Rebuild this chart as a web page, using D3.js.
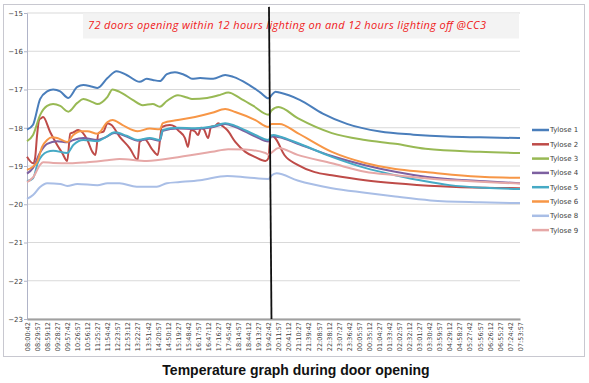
<!DOCTYPE html>
<html>
  <head>
    <meta charset="UTF-8" />
    <title>Temperature graph during door opening</title>
    <script src="https://d3js.org/d3.v7.min.js"></script>
    <style>
      body { margin: 0; background: #fff; }
      svg { display: block; }
      .tick text { fill: #404040; }
    </style>
  </head>
  <body>
    <svg width="589" height="383"></svg>
    <script>
      // time labels on the x axis (one every 29:15)
      var timeLabels = [
        "08:00:42", "08:29:57", "08:59:12", "09:28:27", "09:57:42", "10:26:57", "10:56:12",
        "11:25:27", "11:54:42", "12:23:57", "12:53:12", "13:22:27", "13:51:42", "14:20:57",
        "14:50:12", "15:19:27", "15:48:42", "16:17:57", "16:47:12", "17:16:27", "17:45:42",
        "18:14:57", "18:44:12", "19:13:27", "19:42:42", "20:11:57", "20:41:12", "21:10:27",
        "21:39:42", "22:08:57", "22:38:12", "23:07:27", "23:36:42", "00:05:57", "00:35:12",
        "01:04:27", "01:33:42", "02:02:57", "02:32:12", "03:01:27", "03:30:42", "03:59:57",
        "04:29:12", "04:58:27", "05:27:42", "05:56:57", "06:26:12", "06:55:27", "07:24:42",
        "07:53:57"
      ];
      var yTicks = [-15, -16, -17, -18, -19, -20, -21, -22, -23];
      var seriesNames = ["Tylose 1", "Tylose 2", "Tylose 3", "Tylose 4", "Tylose 5", "Tylose 6", "Tylose 8", "Tylose 9"];
      var lightsOffAt = 24.15; // position of the lighting-off marker, in label steps

      // [label step, temperature]
      var tylose1 = [[0,-18.05],[0.6,-17.92],[1.3,-17.25],[2.0,-17.05],[2.6,-17.0],[3.3,-17.05],[4.1,-17.22],
        [5.0,-16.93],[5.6,-16.88],[6.5,-16.93],[7.0,-16.96],[8.0,-16.7],[8.9,-16.52],[9.9,-16.62],[11.2,-16.8],
        [11.9,-16.72],[12.5,-16.75],[13.2,-16.78],[13.9,-16.6],[14.7,-16.55],[15.9,-16.65],[16.4,-16.72],
        [17.2,-16.7],[18.5,-16.72],[19.7,-16.62],[20.5,-16.67],[21.9,-16.85],[23.2,-17.08],[24.0,-17.23],
        [24.3,-17.15],[24.7,-17.06],[25.1,-17.08],[27.1,-17.27],[29.4,-17.63],[31.8,-17.9],[35.1,-18.1],
        [38.4,-18.18],[41.7,-18.23],[45.0,-18.25],[49,-18.27]];
      var tylose2 = [[0,-18.76],[0.6,-18.93],[0.8,-18.8],[1.0,-18.2],[1.2,-17.8],[1.4,-17.75],[1.6,-17.72],
        [2.3,-18.11],[3.0,-18.45],[3.5,-18.66],[4.0,-18.87],[4.3,-18.15],[4.6,-18.12],[5.1,-18.06],[6.0,-18.32],
        [6.5,-18.63],[6.8,-18.71],[7.1,-18.14],[7.6,-18.1],[8.0,-17.88],[8.4,-17.93],[9.2,-18.23],[10.2,-18.53],
        [11.0,-18.84],[11.2,-18.37],[11.7,-18.3],[12.4,-18.55],[13.0,-18.71],[13.4,-17.98],[14.2,-17.93],
        [14.7,-17.97],[15.0,-18.06],[15.7,-18.27],[16.0,-18.5],[16.3,-18.06],[16.7,-18.1],[17.0,-18.19],
        [17.3,-18.0],[17.6,-18.05],[18.0,-18.27],[18.3,-17.97],[18.7,-17.95],[19.0,-17.88],[19.4,-17.95],
        [19.9,-18.06],[20.7,-18.37],[21.7,-18.63],[22.7,-18.77],[23.7,-18.87],[24.0,-18.8],[24.2,-18.2],
        [24.5,-18.23],[24.7,-18.28],[25.6,-18.72],[26.9,-18.97],[28.6,-19.16],[30.3,-19.24],[33.6,-19.37],
        [36.6,-19.45],[41.1,-19.53],[45.5,-19.57],[49,-19.58]];
      var tylose3 = [[0,-18.35],[0.6,-18.19],[1.3,-17.67],[2.0,-17.43],[2.6,-17.38],[3.3,-17.43],[4.1,-17.58],
        [5.0,-17.35],[5.6,-17.25],[6.5,-17.33],[7.0,-17.38],[8.0,-17.19],[8.5,-17.0],[9.2,-17.06],[10.5,-17.27],
        [11.5,-17.41],[12.5,-17.38],[13.2,-17.45],[13.9,-17.3],[15.0,-17.15],[15.9,-17.21],[16.4,-17.25],
        [17.9,-17.22],[19.2,-17.14],[20.0,-17.08],[21.2,-17.23],[22.5,-17.43],[24.0,-17.66],[24.3,-17.55],
        [25.0,-17.46],[26.9,-17.75],[30.3,-18.14],[33.6,-18.32],[36.6,-18.42],[39.6,-18.55],[45.0,-18.63],
        [49,-18.66]];
      var tylose4 = [[0,-19.2],[0.6,-19.05],[1.3,-18.65],[2.0,-18.42],[3.0,-18.35],[4.0,-18.38],[4.6,-18.32],
        [5.6,-18.27],[7.0,-18.32],[7.8,-18.25],[8.7,-18.14],[9.9,-18.23],[11.0,-18.34],[12.2,-18.29],
        [13.2,-18.34],[13.5,-18.08],[15.0,-18.02],[16.7,-18.03],[18.4,-17.99],[19.7,-17.9],[20.7,-17.98],
        [22.7,-18.23],[24.0,-18.36],[24.3,-18.22],[25.1,-18.25],[26.9,-18.42],[30.3,-18.74],[33.6,-18.98],
        [36.6,-19.15],[39.6,-19.28],[45.5,-19.4],[49,-19.45]];
      var tylose5 = [[0,-19.4],[0.6,-19.32],[1.1,-18.9],[2.0,-18.63],[2.6,-18.6],[4.0,-18.66],[4.6,-18.45],
        [5.6,-18.32],[7.0,-18.35],[7.8,-18.25],[8.7,-18.12],[9.9,-18.21],[11.0,-18.32],[12.2,-18.27],
        [13.2,-18.32],[13.5,-18.06],[15.0,-18.0],[16.7,-18.01],[18.4,-17.97],[19.7,-17.88],[20.7,-17.95],
        [22.7,-18.19],[24.0,-18.32],[24.3,-18.2],[24.5,-18.19],[25.1,-18.23],[26.9,-18.4],[30.3,-18.76],
        [33.6,-19.05],[36.6,-19.24],[39.6,-19.4],[42.0,-19.5],[45.5,-19.57],[49,-19.6]];
      var tylose6 = [[0,-19.1],[1.0,-18.9],[1.5,-18.5],[2.0,-18.32],[2.5,-18.25],[3.0,-18.27],[4.0,-18.37],
        [4.6,-18.19],[5.3,-18.09],[6.0,-18.09],[7.0,-18.16],[8.0,-17.85],[8.5,-17.8],[9.5,-17.93],[11.0,-18.09],
        [12.2,-18.02],[13.2,-18.04],[13.5,-17.88],[15.0,-17.8],[16.7,-17.72],[18.4,-17.61],[19.7,-17.51],
        [20.7,-17.59],[22.7,-17.8],[24.0,-17.98],[24.3,-17.9],[25.1,-17.9],[26.9,-18.14],[30.3,-18.63],
        [33.6,-18.92],[36.6,-19.08],[39.6,-19.16],[45.5,-19.29],[49,-19.31]];
      var tylose8 = [[0,-19.86],[0.6,-19.76],[1.3,-19.55],[2.0,-19.45],[3.3,-19.47],[4.0,-19.52],[5.0,-19.47],
        [7.0,-19.5],[8.0,-19.45],[9.2,-19.45],[10.9,-19.54],[12.9,-19.54],[13.9,-19.45],[15.2,-19.42],
        [17.2,-19.37],[19.9,-19.26],[21.9,-19.3],[24.0,-19.34],[24.3,-19.25],[24.8,-19.19],[26.9,-19.38],
        [30.3,-19.58],[33.6,-19.7],[36.6,-19.8],[40.1,-19.9],[45.0,-19.95],[49,-19.97]];
      var tylose9 = [[0,-19.42],[0.6,-19.3],[1.3,-18.97],[1.6,-18.9],[2.6,-18.92],[4.3,-18.93],[6.0,-18.9],
        [8.0,-18.85],[9.2,-18.82],[11.9,-18.87],[15.0,-18.77],[18.4,-18.63],[20.0,-18.56],[21.7,-18.57],
        [23.7,-18.66],[24.0,-18.7],[24.3,-18.65],[25.0,-18.53],[26.9,-18.71],[30.3,-18.93],[33.6,-19.15],
        [36.6,-19.24],[39.6,-19.32],[45.5,-19.42],[49,-19.46]];

      var allSeries = [tylose1, tylose2, tylose3, tylose4, tylose5, tylose6, tylose8, tylose9];
      var colors = ["#4a7ebb", "#be4b48", "#98b954", "#7d60a0", "#46aac5", "#f79646", "#a9bee6", "#e6a8a7"];

      var svg = d3.select("svg");
      var margin = { top: 13, right: 69, bottom: 64, left: 27 };
      var width = +svg.attr("width") - margin.left - margin.right;
      var height = +svg.attr("height") - margin.top - margin.bottom;

      // outer chart frame
      svg.append("rect")
        .attr("x", 3.5).attr("y", 4.5)
        .attr("width", 581).attr("height", 352)
        .attr("fill", "#fff")
        .attr("stroke", "#c8c8d0");

      var g = svg.append("g")
        .attr("transform", "translate(" + margin.left + "," + margin.top + ")");

      var x = d3.scaleLinear().domain([0, timeLabels.length - 1]).range([0, width]);
      var y = d3.scaleLinear().domain([-23, -15]).range([height, 0]);

      // horizontal grid
      g.append("g")
        .selectAll("line")
        .data(yTicks)
        .enter()
        .append("line")
        .attr("x1", 0).attr("x2", width)
        .attr("y1", function (d) { return y(d); })
        .attr("y2", function (d) { return y(d); })
        .attr("stroke", "#d9d9d9")
        .attr("stroke-width", 1.2);

      // title box
      g.append("rect")
        .attr("x", 56).attr("y", 0.5)
        .attr("width", width - 57).attr("height", 25)
        .attr("fill", "#f3f3f3");
      g.append("text")
        .attr("x", 260).attr("y", 16)
        .attr("text-anchor", "middle")
        .attr("font-family", "Open Sans, sans-serif")
        .attr("font-style", "italic")
        .attr("font-size", 11)
        .attr("fill", "#f02020")
        .attr("textLength", 398)
        .text("72 doors opening within 12 hours lighting on and 12 hours lighting off  @CC3");

      // y axis
      var yAxis = g.append("g")
        .call(d3.axisLeft(y).tickValues(yTicks).tickSize(3).tickFormat(d3.format("d")));
      yAxis.select(".domain").attr("stroke", "#b0b4c8");
      yAxis.selectAll(".tick line").attr("stroke", "#b0b4c8");
      yAxis.selectAll("text")
        .attr("font-family", "DejaVu Sans, sans-serif")
        .attr("font-size", 7)
        .attr("x", -4);

      // x axis
      var xAxis = g.append("g")
        .attr("transform", "translate(0," + height + ")")
        .call(d3.axisBottom(x)
          .tickValues(d3.range(timeLabels.length))
          .tickSize(0)
          .tickFormat(function (i) { return timeLabels[i]; }));
      xAxis.select(".domain").attr("stroke", "#a0a0a0").attr("stroke-width", 2);
      xAxis.selectAll("text")
        .attr("font-family", "DejaVu Sans, sans-serif")
        .attr("font-size", 6.5)
        .attr("transform", "rotate(-90)")
        .attr("text-anchor", "end")
        .attr("x", -3)
        .attr("y", 0)
        .attr("dy", "0.35em");

      // series
      var line = d3.line()
        .x(function (d) { return x(d[0]); })
        .y(function (d) { return y(d[1]); })
        .curve(d3.curveMonotoneX);

      g.append("g")
        .selectAll("path")
        .data(allSeries)
        .enter()
        .append("path")
        .attr("d", line)
        .attr("fill", "none")
        .attr("stroke", function (d, i) { return colors[i]; })
        .attr("stroke-width", 2);

      // lighting-off marker
      g.append("line")
        .attr("x1", x(lightsOffAt) - 1).attr("x2", x(lightsOffAt) + 1.5)
        .attr("y1", y(-14.84)).attr("y2", height)
        .attr("stroke", "#111")
        .attr("stroke-width", 1.8);

      // legend
      var legend = svg.append("g")
        .attr("font-family", "DejaVu Sans, sans-serif")
        .attr("font-size", 7)
        .selectAll("g")
        .data(seriesNames)
        .enter()
        .append("g")
        .attr("transform", function (d, i) {
          return "translate(532," + (130 + i * 14.3) + ")";
        });
      legend.append("line")
        .attr("x1", 0).attr("x2", 17)
        .attr("stroke", function (d, i) { return colors[i]; })
        .attr("stroke-width", 2.5);
      legend.append("text")
        .attr("x", 18)
        .attr("dy", "0.35em")
        .attr("fill", "#404040")
        .text(function (d) { return d; });

      // caption
      svg.append("text")
        .attr("x", 296).attr("y", 375)
        .attr("text-anchor", "middle")
        .attr("font-family", "Liberation Sans, Arial, sans-serif")
        .attr("font-weight", "bold")
        .attr("font-size", 14)
        .attr("fill", "#111")
        .text("Temperature graph during door opening");
    </script>
  </body>
</html>
